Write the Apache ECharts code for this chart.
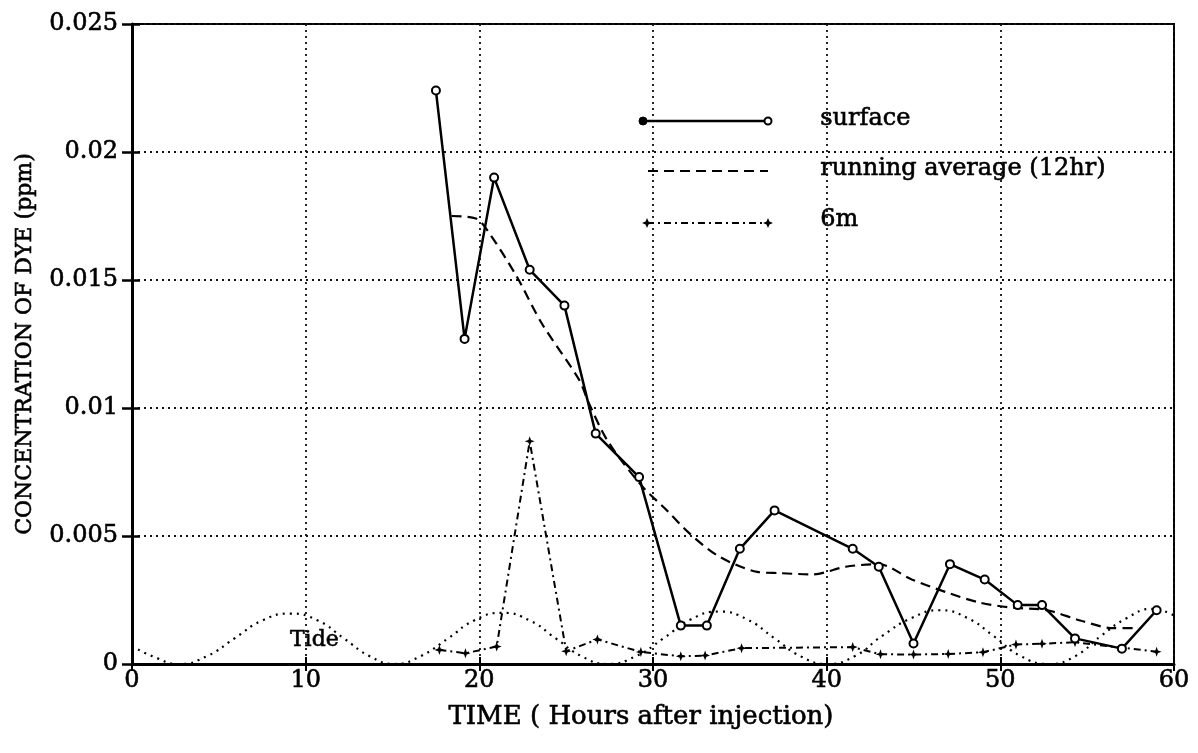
<!DOCTYPE html>
<html>
<head>
<meta charset="utf-8">
<script src="https://cdn.jsdelivr.net/npm/echarts@6/dist/echarts.min.js"></script>
<style>
  html, body { margin: 0; padding: 0; background: #fff; }
  #chart { width: 1198px; height: 753px; }
</style>
</head>
<body>
<div id="chart"></div>
<script>
// ---- data ----
const xTicks = [0, 10, 20, 30, 40, 50, 60];
const yTickLabels = ['0', '0.005', '0.01', '0.015', '0.02', '0.025'];

const surfaceHours = [17.5, 19.15, 20.85, 22.9, 24.9, 26.7, 29.2, 31.6, 33.1, 35.0, 37.0, 41.5, 43.0, 45.0, 47.1, 49.1, 51.0, 52.4, 54.3, 57.0, 59.0];
const surfaceValues = [0.0224, 0.0127, 0.0190, 0.0154, 0.0140, 0.0090, 0.0073, 0.0015, 0.0015, 0.0045, 0.0060, 0.0045, 0.0038, 0.0008, 0.0039, 0.0033, 0.0023, 0.0023, 0.0010, 0.0006, 0.0021];

const avgHours = [18.4, 19.8, 20.4, 22.1, 23.6, 25.75, 26.3, 27.4, 29.3, 30.8, 32.1, 33.8, 36.0, 37.3, 39.2, 41.1, 43.0, 44.9, 46.9, 48.8, 50.7, 52.7, 54.6, 56.5, 57.8];
const avgValues = [0.0175, 0.0174, 0.0170, 0.0152, 0.0133, 0.0111, 0.0102, 0.0087, 0.0070, 0.0060, 0.0051, 0.0042, 0.0036, 0.00355, 0.0035, 0.0038, 0.0039, 0.0033, 0.0028, 0.0024, 0.0022, 0.0021, 0.0017, 0.0014, 0.0014];

const m6Hours = [17.7, 19.2, 21.0, 22.9, 25.0, 26.8, 29.3, 31.6, 33.0, 35.1, 41.5, 43.1, 45.0, 47.0, 49.0, 50.9, 52.4, 54.3, 59.0];
const m6Values = [0.00055, 0.00042, 0.00068, 0.0087, 0.0005, 0.00096, 0.00047, 0.0003, 0.00033, 0.00062, 0.00066, 0.00038, 0.00037, 0.00039, 0.00046, 0.00076, 0.00079, 0.00085, 0.00048];

const tideHours = [0, 1.2, 2.7, 4.3, 5.9, 7.5, 9.1, 10.7, 12.2, 13.7, 15.1, 16.6, 18.2, 19.7, 21.3, 22.9, 24.4, 25.9, 27.4, 29.0, 30.6, 32.2, 33.8, 35.4, 37.0, 38.5, 40.0, 41.6, 43.2, 44.9, 46.5, 48.1, 49.6, 51.2, 52.8, 54.3, 55.8, 57.3, 58.7, 60];
const tideValues = [0.0007, 0.0003, 0.0, 0.0003, 0.001, 0.0017, 0.00197, 0.0017, 0.001, 0.0003, 0.0, 0.0003, 0.001, 0.0017, 0.002, 0.0017, 0.001, 0.0003, 0.0, 0.0003, 0.001, 0.00175, 0.00205, 0.00175, 0.001, 0.0003, 0.0, 0.0003, 0.0011, 0.0018, 0.0021, 0.0018, 0.0011, 0.0003, 0.0, 0.0003, 0.0011, 0.0018, 0.00215, 0.0019];

const tideLabel = { text: 'Tide', hour: 10.5, value: 0.00094 };
const legendNames = ['surface', 'running average (12hr)', '6m'];

const zip = (xs, ys) => xs.map((x, i) => [x, ys[i]]);

// ---- styling ----
const FONT = 'DejaVu Serif';
const STAR = 'path://M0,-10 L2.6,-2.6 L10,0 L2.6,2.6 L0,10 L-2.6,2.6 L-10,0 L-2.6,-2.6 Z';
const gridLine = { show: true, lineStyle: { color: '#111', width: 1.8, type: [2, 4] } };
const heavy = { textBorderColor: '#000', textBorderWidth: 0.6 };

const chart = echarts.init(document.getElementById('chart'), null, { renderer: 'canvas' });

const option = {
  animation: false,
  backgroundColor: '#fff',
  textStyle: { fontFamily: FONT, color: '#000' },
  grid: { left: 132, right: 24, top: 24, bottom: 89, show: true, borderColor: '#000', borderWidth: 2 },
  xAxis: [{
    type: 'value', min: 0, max: 60, interval: 10,
    name: 'TIME ( Hours after injection)', nameLocation: 'middle', nameGap: 40,
    nameTextStyle: Object.assign({ fontFamily: FONT, fontSize: 26, color: '#000', padding: [0, 24, 0, 0] }, heavy),
    axisLine: { show: true, lineStyle: { color: '#000', width: 3 } },
    axisTick: { show: true, inside: true, length: 7, lineStyle: { color: '#000', width: 2 } },
    axisLabel: Object.assign({ fontFamily: FONT, fontSize: 24, color: '#000', margin: 5,
      formatter: v => String(xTicks[xTicks.indexOf(v)]) }, heavy),
    splitLine: gridLine
  }, {
    type: 'value', min: 0, max: 60, interval: 10, position: 'top',
    axisLine: { show: true, lineStyle: { color: '#000', width: 2 } },
    axisTick: { show: true, inside: true, length: 7, lineStyle: { color: '#000', width: 2 } },
    axisLabel: { show: false }, splitLine: { show: false }
  }],
  yAxis: [{
    type: 'value', min: 0, max: 0.025, interval: 0.005,
    name: 'CONCENTRATION OF DYE (ppm)', nameLocation: 'middle', nameGap: 96, nameRotate: 90,
    nameTextStyle: Object.assign({ fontFamily: FONT, fontSize: 22, color: '#000' }, heavy),
    axisLine: { show: true, lineStyle: { color: '#000', width: 3 } },
    axisTick: { show: true, inside: true, length: 8, lineStyle: { color: '#000', width: 2.5 } },
    axisLabel: Object.assign({ fontFamily: FONT, fontSize: 24, color: '#000', margin: 14,
      formatter: v => yTickLabels[Math.round(v / 0.005)] }, heavy),
    splitLine: gridLine
  }, {
    type: 'value', min: 0, max: 0.025, interval: 0.005, position: 'right',
    axisLine: { show: true, lineStyle: { color: '#000', width: 2 } },
    axisTick: { show: true, inside: true, length: 10, lineStyle: { color: '#000', width: 2.5 } },
    axisLabel: { show: false }, splitLine: { show: false }
  }],
  series: [
    {
      name: 'Tide', type: 'line', data: zip(tideHours, tideValues), smooth: 0.5,
      showSymbol: false, silent: true,
      lineStyle: { color: '#000', width: 2.2, type: [2, 5] },
      markPoint: {
        symbol: 'circle', symbolSize: 0,
        label: Object.assign({ show: true, position: 'inside', formatter: tideLabel.text, fontFamily: FONT, fontSize: 22, color: '#000' }, heavy),
        data: [{ coord: [tideLabel.hour, tideLabel.value] }]
      },
      z: 2
    },
    {
      name: legendNames[1], type: 'line', data: zip(avgHours, avgValues), smooth: 0.3,
      showSymbol: false,
      lineStyle: { color: '#000', width: 2.2, type: [10, 6] },
      z: 3
    },
    {
      name: legendNames[2], type: 'line', data: zip(m6Hours, m6Values),
      symbol: STAR, symbolSize: 10,
      itemStyle: { color: '#000' },
      lineStyle: { color: '#000', width: 2, type: [7, 4, 2, 4] },
      z: 4
    },
    {
      name: legendNames[0], type: 'line', data: zip(surfaceHours, surfaceValues),
      symbol: 'emptyCircle', symbolSize: 8,
      itemStyle: { color: '#000', borderColor: '#000', borderWidth: 2.4 },
      lineStyle: { color: '#000', width: 2.5 },
      z: 5
    }
  ],
  graphic: [
    // legend: surface
    { type: 'line', shape: { x1: 643, y1: 121, x2: 768, y2: 121 }, style: { stroke: '#000', lineWidth: 2.5 }, z: 10 },
    { type: 'circle', shape: { cx: 643, cy: 121, r: 4 }, style: { fill: '#000', stroke: '#000', lineWidth: 1 }, z: 11 },
    { type: 'circle', shape: { cx: 768, cy: 121, r: 3.5 }, style: { fill: '#fff', stroke: '#000', lineWidth: 2 }, z: 11 },
    { type: 'text', left: 820, top: 106, style: { text: legendNames[0], font: '24px "DejaVu Serif"', fill: '#000', stroke: '#000', lineWidth: 0.6 }, z: 11 },
    // legend: running average
    { type: 'line', shape: { x1: 648, y1: 171, x2: 768, y2: 171 }, style: { stroke: '#000', lineWidth: 2.2, lineDash: [10, 6] }, z: 10 },
    { type: 'text', left: 820, top: 156, style: { text: legendNames[1], font: '24px "DejaVu Serif"', fill: '#000', stroke: '#000', lineWidth: 0.6 }, z: 11 },
    // legend: 6m
    { type: 'line', shape: { x1: 647, y1: 223, x2: 768, y2: 223 }, style: { stroke: '#000', lineWidth: 2, lineDash: [7, 4, 2, 4] }, z: 10 },
    { type: 'polygon', shape: { points: [[647,218],[648.5,221.5],[652,223],[648.5,224.5],[647,228],[645.5,224.5],[642,223],[645.5,221.5]] }, style: { fill: '#000' }, z: 11 },
    { type: 'polygon', shape: { points: [[768,218],[769.5,221.5],[773,223],[769.5,224.5],[768,228],[766.5,224.5],[763,223],[766.5,221.5]] }, style: { fill: '#000' }, z: 11 },
    { type: 'text', left: 820, top: 207, style: { text: legendNames[2], font: '24px "DejaVu Serif"', fill: '#000', stroke: '#000', lineWidth: 0.6 }, z: 11 }
  ]
};

chart.setOption(option);
</script>
</body>
</html>
